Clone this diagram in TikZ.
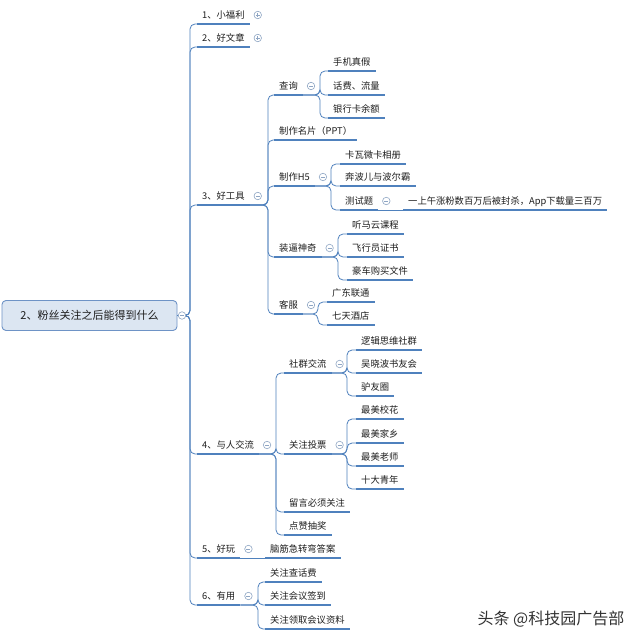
\documentclass[tikz,border=0pt]{standalone}
\usepackage{fontspec}
\newfontfamily\cjk{Noto Sans CJK SC}
\usetikzlibrary{calc}
\definecolor{lc}{HTML}{4F81BD}
\definecolor{tc}{HTML}{8FA6C4}
\definecolor{txt}{HTML}{1E1E1E}
\definecolor{rootfill}{HTML}{DCE6F2}
\definecolor{rootdraw}{HTML}{6E93C6}
\definecolor{wmc}{HTML}{333333}
\begin{document}
\begin{tikzpicture}[x=1pt,y=-1pt,
  lbl/.style={anchor=south west, inner xsep=5pt, inner ysep=0pt, text depth=5.5pt, text=txt, font=\cjk\fontsize{9.3}{11}\selectfont},
  uline/.style={draw=lc, line width=1.6pt},
  br/.style={draw=lc, line width=0.8pt, rounded corners=5pt},
  tog/.style={circle, draw=tc, fill=white, line width=0.6pt, minimum size=7.5pt, inner sep=0pt},
  togm/.style={tog, path picture={\draw[tc,line width=0.6pt] ([xshift=-2pt]path picture bounding box.center) -- ([xshift=2pt]path picture bounding box.center);}},
  togp/.style={tog, path picture={\draw[tc,line width=0.6pt] ([xshift=-2pt]path picture bounding box.center) -- ([xshift=2pt]path picture bounding box.center) ([yshift=-2pt]path picture bounding box.center) -- ([yshift=2pt]path picture bounding box.center);}},
  rootbox/.style={rectangle, rounded corners=4pt, draw=rootdraw, fill=rootfill, line width=0.9pt, minimum width=175pt, minimum height=30pt, inner sep=0pt, font=\cjk\fontsize{11}{13}\selectfont, text=txt}
]
\fill[white] (0,0) rectangle (640,642);
\useasboundingbox (0,0) rectangle (640,642);

% root
\node[rootbox] (root) at (89.5,315.5) {2、粉丝关注之后能得到什么};

% level 1
\node[lbl] (a1) at (197,24) {1、小福利};
\node[lbl] (a2) at (197,47) {2、好文章};
\node[lbl] (a3) at (197,205) {3、好工具};
\node[lbl] (a4) at (197,454) {4、与人交流};
\node[lbl] (a5) at (197,558) {5、好玩};
\node[lbl] (a6) at (197,605) {6、有用};

% 好工具
\node[lbl] (b1) at (274,95) {查询};
\node[lbl] (b2) at (274,140) {制作名片（PPT）};
\node[lbl] (b3) at (274,186) {制作H5};
\node[lbl] (b4) at (274,257) {装逼神奇};
\node[lbl] (b5) at (274,314) {客服};

\node[lbl] (c1) at (328,71) {手机真假};
\node[lbl] (c2) at (328,95) {话费、流量};
\node[lbl] (c3) at (328,118) {银行卡余额};

\node[lbl] (d1) at (340,164) {卡瓦微卡相册};
\node[lbl] (d2) at (340,186) {奔波儿与波尔霸};
\node[lbl] (d3) at (340,210) {测试题};
\node[lbl] (d31) at (403,210) {一上午涨粉数百万后被封杀，App下载量三百万};

\node[lbl] (e1) at (347,234) {听马云课程};
\node[lbl] (e2) at (347,257) {飞行员证书};
\node[lbl] (e3) at (347,280) {豪车购买文件};

\node[lbl] (f1) at (327,302) {广东联通};
\node[lbl] (f2) at (327,325) {七天酒店};

% 与人交流
\node[lbl] (g1) at (284,373) {社群交流};
\node[lbl] (g2) at (284,454) {关注投票};
\node[lbl] (g3) at (284,512) {留言必须关注};
\node[lbl] (g4) at (284,535) {点赞抽奖};

\node[lbl] (h1) at (356,350) {逻辑思维社群};
\node[lbl] (h2) at (356,373) {吴晓波书友会};
\node[lbl] (h3) at (356,396) {驴友圈};

\node[lbl] (k1) at (356,419) {最美校花};
\node[lbl] (k2) at (356,443) {最美家乡};
\node[lbl] (k3) at (356,466) {最美老师};
\node[lbl] (k4) at (356,489) {十大青年};

% 好玩 / 有用
\node[lbl] (m1) at (265,558) {脑筋急转弯答案};
\node[lbl] (n1) at (265,582) {关注查话费};
\node[lbl] (n2) at (265,605) {关注会议签到};
\node[lbl] (n3) at (265,629) {关注领取会议资料};

% junctions
\coordinate (j0) at (190,315.5);
\coordinate (j3) at (268,205);
\coordinate (j31) at (320,95);
\coordinate (j33) at (331,186);
\coordinate (j34) at (338,257);
\coordinate (j35) at (318,314);
\coordinate (j4) at (276,454);
\coordinate (j41) at (347,373);
\coordinate (j42) at (347,454);
\coordinate (j6) at (258,605);

% connectors
\foreach \c in {a1,a2,a3,a4,a5,a6} \draw[br] (root.east) -- (j0) |- (\c.south west);
\foreach \c in {b1,b2,b3,b4,b5} \draw[br] (a3.south east) -- (j3) |- (\c.south west);
\foreach \c in {c1,c2,c3} \draw[br] (b1.south east) -- (j31) |- (\c.south west);
\foreach \c in {d1,d2,d3} \draw[br] (b3.south east) -- (j33) |- (\c.south west);
\draw[br] (d3.south east) -- (d31.south west);
\foreach \c in {e1,e2,e3} \draw[br] (b4.south east) -- (j34) |- (\c.south west);
\foreach \c in {f1,f2} \draw[br] (b5.south east) -- (j35) |- (\c.south west);
\foreach \c in {g1,g2,g3,g4} \draw[br] (a4.south east) -- (j4) |- (\c.south west);
\foreach \c in {h1,h2,h3} \draw[br] (g1.south east) -- (j41) |- (\c.south west);
\foreach \c in {k1,k2,k3,k4} \draw[br] (g2.south east) -- (j42) |- (\c.south west);
\draw[br] (a5.south east) -- (m1.south west);
\foreach \c in {n1,n2,n3} \draw[br] (a6.south east) -- (j6) |- (\c.south west);

% underlines
\foreach \c in {a1,a2,a3,a4,a5,a6,b1,b2,b3,b4,b5,c1,c2,c3,d1,d2,d3,d31,e1,e2,e3,f1,f2,g1,g2,g3,g4,h1,h2,h3,k1,k2,k3,k4,m1,n1,n2,n3}
  \draw[uline] (\c.south west) -- (\c.south east);

% toggles
\node[togm] (rt) at (182,315.5) {};
\node[togp] (ta1) at ($(a1.south east)+(8,-9)$) {};
\node[togp] (ta2) at ($(a2.south east)+(8,-9)$) {};
\foreach \c in {a3,a4,a5,a6,b1,b3,b4,b5,d3,g1,g2}
  \node[togm] (t\c) at ($(\c.south east)+(8,-9)$) {};

% watermark
\node[font=\cjk\fontsize{16}{18}\selectfont, text=wmc] (wm) at (551,619) {头条 @科技园广告部};
\end{tikzpicture}
\end{document}
